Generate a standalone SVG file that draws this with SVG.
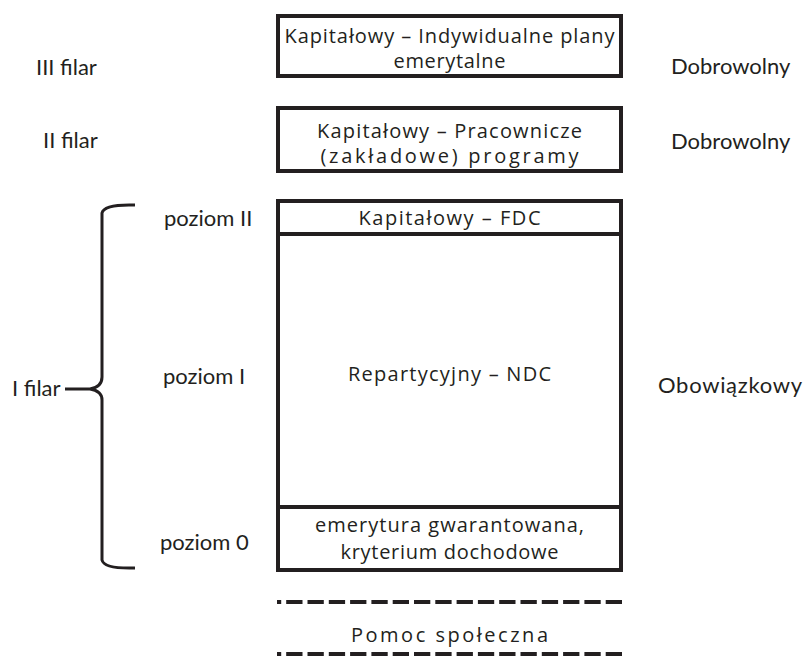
<svg xmlns="http://www.w3.org/2000/svg" width="804" height="664" viewBox="0 0 804 664">
<style>
text{font-family:"Open Sans","Noto Sans","Liberation Sans",sans-serif;font-size:20px;fill:#231f20}
.o{font-family:Lato,"Open Sans","Liberation Sans",sans-serif;font-size:22px}
.c{text-anchor:middle}
.box{fill:#fff;stroke:#231f20;stroke-width:4}
.ln{stroke:#231f20;stroke-width:4;fill:none}
.dash{stroke:#231f20;stroke-width:4;stroke-dasharray:16.3 5;fill:none}
.br{stroke:#231f20;stroke-width:3;fill:none}
</style>
<rect width="804" height="664" fill="#fff"/>
<g id="labels-left">
<text class="o" x="36" y="75">III filar</text>
<text class="o" x="43" y="148">II filar</text>
<text class="o" x="12" y="396">I filar</text>
<text class="o" x="164" y="226">poziom II</text>
<text class="o" x="163" y="384">poziom I</text>
<text class="o" x="160" y="550">poziom 0</text>
</g>
<g id="labels-right">
<text class="o" x="671" y="74">Dobrowolny</text>
<text class="o" x="671" y="149">Dobrowolny</text>
<text class="o" x="658" y="393" textLength="144">Obowiązkowy</text>
</g>
<g id="node-iii">
<rect class="box" x="278" y="16" width="343" height="60"/>
<text class="c" x="449.5" y="43" textLength="330">Kapitałowy – Indywidualne plany</text>
<text class="c" x="449.5" y="68" textLength="112">emerytalne</text>
</g>
<g id="node-ii">
<rect class="box" x="278" y="108" width="343" height="63"/>
<text class="c" x="449.5" y="138" textLength="265">Kapitałowy – Pracownicze</text>
<text class="c" x="449.5" y="163" textLength="258">(zakładowe) programy</text>
</g>
<g id="node-i">
<rect class="box" x="278" y="201" width="343" height="369"/>
<line class="ln" x1="278" y1="234" x2="621" y2="234"/>
<line class="ln" x1="278" y1="507" x2="621" y2="507"/>
<text class="c" x="449.5" y="225" textLength="182">Kapitałowy – FDC</text>
<text class="c" x="449.5" y="381" textLength="203">Repartycyjny – NDC</text>
<text class="c" x="449.5" y="532" textLength="269">emerytura gwarantowana,</text>
<text class="c" x="449.5" y="559" textLength="218">kryterium dochodowe</text>
</g>
<g id="node-pomoc">
<text class="c" x="449.5" y="642" textLength="197">Pomoc społeczna</text>
</g>
<g id="connectors">
<path class="br" d="M135 205 Q104 204 102 213 L102 377 Q102 387 90 389 L65 389 M90 389 Q102 391 102 400 L102 560 Q104 569 135 568"/>
<line class="dash" x1="622" y1="602" x2="277" y2="602"/>
<line class="dash" x1="622" y1="654" x2="277" y2="654"/>
</g>
</svg>
